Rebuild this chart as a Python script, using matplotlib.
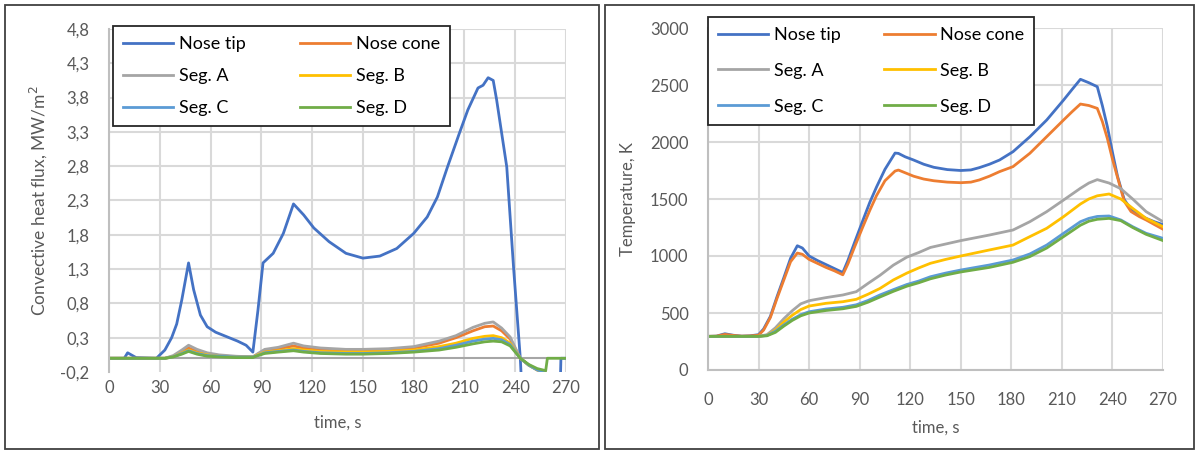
import matplotlib
matplotlib.use("Agg")
import matplotlib.pyplot as plt
from matplotlib.patches import Rectangle
from matplotlib.lines import Line2D

plt.rcParams['font.family'] = ['Lato', 'DejaVu Sans']

# ---- left panel: convective heat flux, MW/m2 ----
t_tip_q = [0, 9, 11, 16, 28, 33, 37, 40, 43, 47, 50, 54, 58, 63, 70, 76, 81, 85, 88, 91,
           97, 103, 109, 115, 121, 130, 140, 150, 160, 170, 180, 188, 194, 200, 207, 212,
           218, 221, 224, 227, 229, 235, 239, 243, 245, 266, 267, 270]
q_tip = [0, 0, 0.08, 0.01, 0, 0.12, 0.3, 0.5, 0.85, 1.39, 1.0, 0.63, 0.46, 0.38, 0.31, 0.25,
         0.19, 0.09, 0.7, 1.39, 1.53, 1.82, 2.25, 2.09, 1.9, 1.7, 1.53, 1.46, 1.49, 1.6,
         1.82, 2.06, 2.35, 2.79, 3.28, 3.62, 3.94, 3.98, 4.09, 4.05, 3.77, 2.79, 1.33, 0,
         -1.0, -1.0, 0, 0]

t_seg_q = [0, 33, 38, 43, 47, 52, 58, 65, 75, 85, 88, 92, 100, 109, 115, 125, 140, 150,
           165, 180, 195, 205, 215, 222, 227, 232, 237, 243, 248, 253, 258, 259, 270]
q_cone = [0, 0, 0.03, 0.1, 0.15, 0.1, 0.06, 0.04, 0.02, 0.02, 0.06, 0.11, 0.14, 0.18, 0.15,
          0.12, 0.11, 0.11, 0.12, 0.15, 0.22, 0.3, 0.4, 0.46, 0.47, 0.4, 0.28, 0.0, -0.1,
          -0.17, -0.21, -0.6, -0.6]
q_a = [0, 0, 0.04, 0.12, 0.19, 0.13, 0.08, 0.05, 0.03, 0.02, 0.07, 0.13, 0.16, 0.22, 0.18,
       0.15, 0.13, 0.13, 0.14, 0.17, 0.25, 0.33, 0.45, 0.51, 0.53, 0.44, 0.31, 0.0, -0.1,
       -0.17, -0.21, -0.6, -0.6]
q_b = [0, 0, 0.02, 0.08, 0.12, 0.08, 0.05, 0.03, 0.02, 0.02, 0.05, 0.09, 0.11, 0.14, 0.12,
       0.1, 0.09, 0.09, 0.1, 0.12, 0.17, 0.22, 0.29, 0.32, 0.33, 0.3, 0.22, 0.0, -0.1,
       -0.17, -0.21, -0.6, -0.6]
q_c = [0, 0, 0.02, 0.07, 0.11, 0.07, 0.04, 0.03, 0.02, 0.02, 0.04, 0.08, 0.1, 0.12, 0.1,
       0.08, 0.07, 0.07, 0.08, 0.1, 0.14, 0.19, 0.25, 0.28, 0.29, 0.27, 0.2, 0.0, -0.1,
       -0.17, -0.21, -0.6, -0.6]
q_d = [0, 0, 0.02, 0.06, 0.1, 0.06, 0.03, 0.02, 0.01, 0.01, 0.04, 0.07, 0.09, 0.11, 0.09,
       0.07, 0.06, 0.06, 0.07, 0.09, 0.12, 0.16, 0.21, 0.24, 0.25, 0.24, 0.18, 0.0, -0.09,
       -0.15, -0.18, 0, 0]

q_ticks = [-0.2, 0.3, 0.8, 1.3, 1.8, 2.3, 2.8, 3.3, 3.8, 4.3, 4.8]
q_ticklabels = ['-0,2', '0,3', '0,8', '1,3', '1,8', '2,3', '2,8', '3,3', '3,8', '4,3', '4,8']

# ---- right panel: temperature, K ----
t_T_nose = [0, 5, 10, 15, 20, 25, 30, 33, 37, 41, 45, 49, 53, 56, 60, 65, 70, 75, 80, 83,
            87, 92, 96, 100, 105, 111, 113, 117, 122, 128, 134, 142, 150, 156, 161, 167,
            173, 181, 191, 201, 211, 216, 221, 226, 231, 234, 237, 240, 243, 247, 251, 256,
            260, 265, 270]
T_tip = [295, 297, 318, 305, 297, 300, 310, 360, 470, 645, 810, 980, 1090, 1070, 1000, 960,
         925, 890, 855, 960, 1120, 1316, 1470, 1605, 1760, 1903, 1900, 1870, 1842, 1805,
         1778, 1758, 1750, 1755, 1775, 1805, 1842, 1915, 2046, 2193, 2368, 2460, 2550, 2520,
         2485, 2320, 2134, 1910, 1700, 1495, 1410, 1360, 1330, 1300, 1275]
T_cone = [295, 297, 312, 303, 297, 299, 305, 350, 460, 630, 790, 950, 1026, 1015, 970, 935,
          900, 870, 835, 930, 1080, 1260, 1400, 1530, 1660, 1745, 1754, 1730, 1700, 1675,
          1660, 1648, 1643, 1648, 1667, 1700, 1740, 1784, 1901, 2047, 2193, 2265, 2333,
          2320, 2295, 2180, 2030, 1850, 1690, 1480, 1390, 1345, 1316, 1275, 1235]

t_T_seg = [0, 30, 35, 40, 45, 50, 55, 60, 70, 80, 88, 95, 102, 110, 118, 125, 132, 141, 150,
           167, 181, 191, 201, 211, 221, 226, 231, 238, 245, 252, 260, 270]
T_a = [295, 295, 310, 370, 450, 520, 580, 608, 635, 658, 687, 760, 830, 920, 990, 1030, 1075,
       1105, 1135, 1184, 1228, 1301, 1389, 1491, 1594, 1640, 1670, 1640, 1590, 1500, 1389, 1301]
T_b = [295, 295, 305, 350, 420, 480, 530, 561, 585, 599, 620, 665, 715, 790, 850, 895, 936,
       970, 1000, 1053, 1096, 1170, 1243, 1345, 1456, 1500, 1528, 1544, 1500, 1418, 1330, 1257]
T_c = [295, 295, 303, 340, 395, 445, 485, 511, 535, 550, 572, 610, 658, 705, 750, 780, 818,
       850, 877, 921, 965, 1018, 1096, 1199, 1301, 1330, 1347, 1351, 1316, 1257, 1199, 1155]
T_d = [295, 295, 300, 330, 385, 435, 475, 500, 522, 537, 558, 595, 640, 690, 735, 765, 800,
       833, 860, 900, 945, 995, 1070, 1170, 1270, 1305, 1322, 1330, 1310, 1250, 1190, 1135]

time_ticks = [0, 30, 60, 90, 120, 150, 180, 210, 240, 270]
T_ticks = [0, 500, 1000, 1500, 2000, 2500, 3000]

labels = ['Nose tip', 'Nose cone', 'Seg. A', 'Seg. B', 'Seg. C', 'Seg. D']
colors = ['#4472C4', '#ED7D31', '#A5A5A5', '#FFC000', '#5B9BD5', '#70AD47']

W, H = 1196, 451
fig = plt.figure(figsize=(W / 100, H / 100), dpi=100)

def fx(px):
    return px / W

def fy(py):
    return 1 - py / H

# panel frames
for x0, x1 in [(5, 599), (605, 1194)]:
    fig.add_artist(Rectangle((fx(x0), fy(449)), fx(x1 - x0), (449 - 5) / H,
                             transform=fig.transFigure, fill=False,
                             edgecolor='#404040', lw=1.3))

grid_c = '#D9D9D9'
txt_c = '#595959'
lw = 2.0


def style_axes(ax):
    ax.grid(True, color=grid_c, lw=1.5)
    ax.set_axisbelow(True)
    for s in ['top', 'right', 'bottom']:
        ax.spines[s].set_visible(False)
    ax.spines['left'].set_color('#BFBFBF')
    ax.spines['left'].set_linewidth(1.5)
    ax.tick_params(length=0, labelsize=12, colors=txt_c)
    ax.set_xticks(time_ticks)
    ax.set_xlim(0, 270)


def add_legend(ax, x0, y0, spacing, colspace):
    handles = [Line2D([], [], color=c, lw=lw) for c in colors]
    order = [0, 2, 4, 1, 3, 5]
    leg = ax.legend([handles[i] for i in order], [labels[i] for i in order], ncol=2,
                    loc='upper left', bbox_to_anchor=(fx(x0), fy(y0)),
                    bbox_transform=fig.transFigure, fontsize=13, frameon=True,
                    fancybox=False, edgecolor='#262626', framealpha=1,
                    handlelength=2.8, handletextpad=0.3, columnspacing=colspace,
                    labelspacing=spacing, borderpad=0.55, borderaxespad=0)
    leg.get_frame().set_linewidth(1.3)
    leg.set_zorder(10)


# left chart
ax1 = fig.add_axes([fx(109), fy(372), fx(566 - 109), (372 - 29) / H])
style_axes(ax1)
ax1.yaxis.grid(False)
for v in q_ticks[1:]:
    ax1.axhline(v, color=grid_c, lw=1.5, zorder=0.5)
ax1.axhline(0, color='#A6A6A6', lw=1.5, zorder=1)
ax1.plot(t_tip_q, q_tip, color=colors[0], lw=lw)
for y, c in zip([q_cone, q_a, q_b, q_c, q_d], colors[1:]):
    ax1.plot(t_seg_q, y, color=c, lw=lw)
ax1.set_ylim(-0.2, 4.8)
ax1.set_yticks(q_ticks)
ax1.set_yticklabels(q_ticklabels)
ax1.tick_params(axis='y', pad=14)
ax1.tick_params(axis='x', pad=6)
ax1.set_xlabel('time, s', fontsize=12, color=txt_c, labelpad=13)
ax1.set_ylabel('Convective heat flux, MW/m$^2$', fontsize=12.5, color=txt_c, labelpad=8)
add_legend(ax1, 113, 26, 0.9, 3.0)

# right chart
ax2 = fig.add_axes([fx(708), fy(370), fx(1163 - 708), (370 - 28) / H])
style_axes(ax2)
ax2.spines['bottom'].set_visible(True)
ax2.spines['bottom'].set_color('#BFBFBF')
ax2.spines['bottom'].set_linewidth(1.5)
ax2.plot(t_T_nose, T_tip, color=colors[0], lw=lw)
ax2.plot(t_T_nose, T_cone, color=colors[1], lw=lw)
for y, c in zip([T_a, T_b, T_c, T_d], colors[2:]):
    ax2.plot(t_T_seg, y, color=c, lw=lw)
ax2.set_ylim(0, 3000)
ax2.set_yticks(T_ticks)
ax2.tick_params(axis='y', pad=14)
ax2.tick_params(axis='x', pad=16)
ax2.set_xlabel('time, s', fontsize=12, color=txt_c, labelpad=8)
ax2.set_ylabel('Temperature, K', fontsize=12, color=txt_c, labelpad=10)
add_legend(ax2, 708, 17, 1.1, 2.4)

fig.savefig('out.png', dpi=100)
